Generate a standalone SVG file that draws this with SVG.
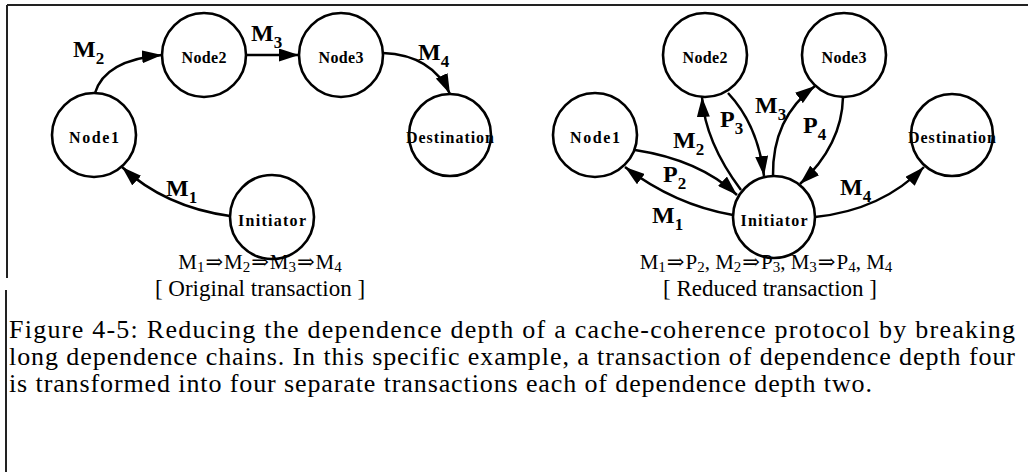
<svg xmlns="http://www.w3.org/2000/svg" width="1028" height="472" viewBox="0 0 1028 472">
<style>
.node{fill:#fff;stroke:#000;stroke-width:2.6}
.edge{fill:none;stroke:#000;stroke-width:2.5;marker-end:url(#ah)}
.frm{stroke:#222;stroke-width:2;fill:none}
</style>
<defs>
<marker id="ah" markerWidth="21" markerHeight="13" refX="20" refY="6.5" orient="auto" markerUnits="userSpaceOnUse">
<path d="M0,0 L20,6.5 L0,13 Z" fill="#000"/>
</marker>
</defs>
<g id="frame">
<line class="frm" x1="7" y1="5" x2="1028" y2="5"/>
<line class="frm" x1="7" y1="5" x2="7" y2="278"/>
<line class="frm" x1="6" y1="290" x2="6" y2="472"/>
</g>
<g id="connectors">
<path class="edge" d="M230,216 Q165,207 122,167"/>
<path class="edge" d="M95,93 Q105,60 162,55"/>
<path class="edge" d="M246,55 L299,55"/>
<path class="edge" d="M383,53 Q432,55 450,94"/>
<path class="edge" d="M733,215 Q675,205 625,167"/>
<path class="edge" d="M635,150 Q700,160 737,195"/>
<path class="edge" d="M741,190 Q705,142 702,97"/>
<path class="edge" d="M728,93 Q758,125 764,176"/>
<path class="edge" d="M773,176 Q772,118 815,86"/>
<path class="edge" d="M843,97 Q842,145 800,184"/>
<path class="edge" d="M815,217 Q882,210 924,167"/>
</g>
<g id="edge-labels" font-size="24" font-family="'Liberation Serif', 'Times New Roman', serif" font-weight="bold">
<text x="73" y="57">M<tspan font-size="17" dy="7">2</tspan></text>
<text x="251" y="41">M<tspan font-size="17" dy="7">3</tspan></text>
<text x="418" y="60">M<tspan font-size="17" dy="7">4</tspan></text>
<text x="166" y="196">M<tspan font-size="17" dy="7">1</tspan></text>
<text x="652" y="223">M<tspan font-size="17" dy="7">1</tspan></text>
<text x="663" y="182">P<tspan font-size="17" dy="7">2</tspan></text>
<text x="673" y="148">M<tspan font-size="17" dy="7">2</tspan></text>
<text x="720" y="127">P<tspan font-size="17" dy="7">3</tspan></text>
<text x="755" y="113">M<tspan font-size="17" dy="7">3</tspan></text>
<text x="803" y="133">P<tspan font-size="17" dy="7">4</tspan></text>
<text x="840" y="195">M<tspan font-size="17" dy="7">4</tspan></text>
</g>
<g font-size="16" font-family="'Liberation Serif', 'Times New Roman', serif" font-weight="bold" text-anchor="middle">
<g id="L-Node1"><circle class="node" cx="94" cy="135" r="42"/><text x="94" y="143" textLength="50">Node1</text></g>
<g id="L-Node2"><circle class="node" cx="204" cy="55" r="42"/><text x="204" y="63" textLength="45">Node2</text></g>
<g id="L-Node3"><circle class="node" cx="341" cy="55" r="42"/><text x="341" y="63" textLength="45">Node3</text></g>
<g id="L-Destination"><circle class="node" cx="450" cy="135" r="41"/><text x="450" y="143" textLength="88">Destination</text></g>
<g id="L-Initiator"><circle class="node" cx="272" cy="217" r="42"/><text x="272" y="226" textLength="68">Initiator</text></g>
<g id="R-Node1"><circle class="node" cx="595" cy="135" r="42"/><text x="595" y="143" textLength="50">Node1</text></g>
<g id="R-Node2"><circle class="node" cx="705" cy="55" r="42"/><text x="705" y="63" textLength="45">Node2</text></g>
<g id="R-Node3"><circle class="node" cx="844" cy="55" r="42"/><text x="844" y="63" textLength="45">Node3</text></g>
<g id="R-Destination"><circle class="node" cx="952" cy="135" r="41"/><text x="952" y="143" textLength="88">Destination</text></g>
<g id="R-Initiator"><circle class="node" cx="774" cy="217" r="41"/><text x="774" y="226" textLength="67">Initiator</text></g>
</g>
<g id="captions" font-family="'Liberation Serif', 'Times New Roman', 'DejaVu Serif', serif">
<text x="260" y="269" font-size="21" text-anchor="middle">M<tspan font-size="15" dy="3">1</tspan><tspan dy="-3" dx="1">⇒</tspan><tspan dx="1">M</tspan><tspan font-size="15" dy="3">2</tspan><tspan dy="-3" dx="1">⇒</tspan><tspan dx="1">M</tspan><tspan font-size="15" dy="3">3</tspan><tspan dy="-3" dx="1">⇒</tspan><tspan dx="1">M</tspan><tspan font-size="15" dy="3">4</tspan></text>
<text x="260" y="296" font-size="23" text-anchor="middle">[ Original transaction ]</text>
<text x="766" y="269" font-size="21" text-anchor="middle">M<tspan font-size="15" dy="3">1</tspan><tspan dy="-3" dx="1">⇒</tspan><tspan dx="1">P</tspan><tspan font-size="15" dy="3">2</tspan><tspan dy="-3">, M</tspan><tspan font-size="15" dy="3">2</tspan><tspan dy="-3" dx="1">⇒</tspan><tspan dx="1">P</tspan><tspan font-size="15" dy="3">3</tspan><tspan dy="-3">, M</tspan><tspan font-size="15" dy="3">3</tspan><tspan dy="-3" dx="1">⇒</tspan><tspan dx="1">P</tspan><tspan font-size="15" dy="3">4</tspan><tspan dy="-3">, M</tspan><tspan font-size="15" dy="3">4</tspan></text>
<text x="770" y="296" font-size="23" text-anchor="middle">[ Reduced transaction ]</text>
<text x="9" y="338" font-size="26" textLength="1006">Figure 4-5: Reducing the dependence depth of a cache-coherence protocol by breaking</text>
<text x="9" y="365" font-size="26" textLength="1006">long dependence chains. In this specific example, a transaction of dependence depth four</text>
<text x="9" y="392" font-size="26" textLength="863">is transformed into four separate transactions each of dependence depth two.</text>
</g>
</svg>
